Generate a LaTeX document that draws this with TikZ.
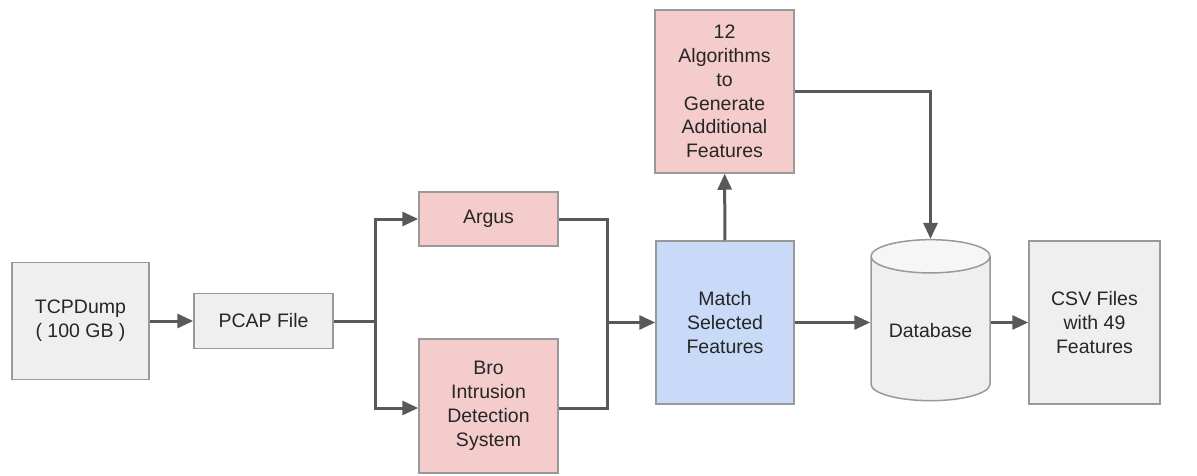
\documentclass[tikz,border=0pt]{standalone}
\usepackage{fontspec}
\setmainfont{Liberation Sans}
\usetikzlibrary{arrows.meta,positioning,shapes.geometric}

\definecolor{boxgray}{HTML}{EFEFEF}
\definecolor{boxpink}{HTML}{F4CCCC}
\definecolor{boxblue}{HTML}{C9DAF8}
\definecolor{edgegray}{HTML}{999999}
\definecolor{flowgray}{HTML}{595959}

\begin{document}
\begin{tikzpicture}[x=1pt,y=-1pt]
\tikzset{
  block/.style={rectangle,draw=edgegray,line width=1.5pt,align=center,inner sep=2pt,
    font=\fontsize{19.5}{23.8}\selectfont,text=black!85},
  flow/.style={-{Triangle[length=16pt,width=14pt]},line width=3pt,draw=flowgray},
  plain/.style={line width=3pt,draw=flowgray}
}
\useasboundingbox (0,0) rectangle (1197,476);
\node[block,fill=boxgray,minimum width=137pt,minimum height=117pt] (n_tcp) at (80.5,321) {TCPDump\\( 100 GB )};
\node[block,fill=boxgray,minimum width=139pt,minimum height=55pt] (n_pcap) at (263.5,321) {PCAP File};
\node[block,fill=boxpink,minimum width=139pt,minimum height=54pt] (n_argus) at (488.5,219) {Argus};
\node[block,fill=boxpink,minimum width=139pt,minimum height=134pt] (n_bro) at (488.5,406) {Bro\\Intrusion\\Detection\\System};
\node[block,fill=boxblue,minimum width=138pt,minimum height=163pt] (n_match) at (725,322.5) {Match\\Selected\\Features};
\node[block,fill=boxpink,minimum width=139pt,minimum height=163pt] (n_algo) at (724.5,91.5) {12\\Algorithms\\to\\Generate\\Additional\\Features};
\node[block,cylinder,shape border rotate=90,aspect=0.38,cylinder uses custom fill,
  cylinder body fill=boxgray,cylinder end fill=boxgray!55,
  minimum width=119pt,minimum height=161pt] (n_db) at (930.5,331) {Database};
\node[block,fill=boxgray,minimum width=131pt,minimum height=163pt] (n_csv) at (1094.5,322.5) {CSV Files\\with 49\\Features};
\coordinate (c_split) at (375,321);
\coordinate (c_merge) at (607,322.5);
\coordinate (c_broin) at (n_bro.west |- 0,408);
\coordinate (c_broout) at (n_bro.east |- 0,408);
\draw[flow] (n_tcp) -- (n_pcap);
\draw[plain] (n_pcap) -- (c_split);
\draw[flow] (c_split) |- (n_argus);
\draw[flow] (c_split) |- (c_broin);
\draw[plain] (n_argus) -| (c_merge);
\draw[plain] (c_broout) -| (c_merge);
\draw[flow] (c_merge) -- (n_match);
\draw[flow] (n_match) -- (n_algo);
\draw[flow] (n_algo) -| (n_db.north);
\draw[flow] (n_match) -- (n_match -| n_db.west);
\draw[flow] (n_db.east |- n_csv) -- (n_csv);
\end{tikzpicture}
\end{document}
